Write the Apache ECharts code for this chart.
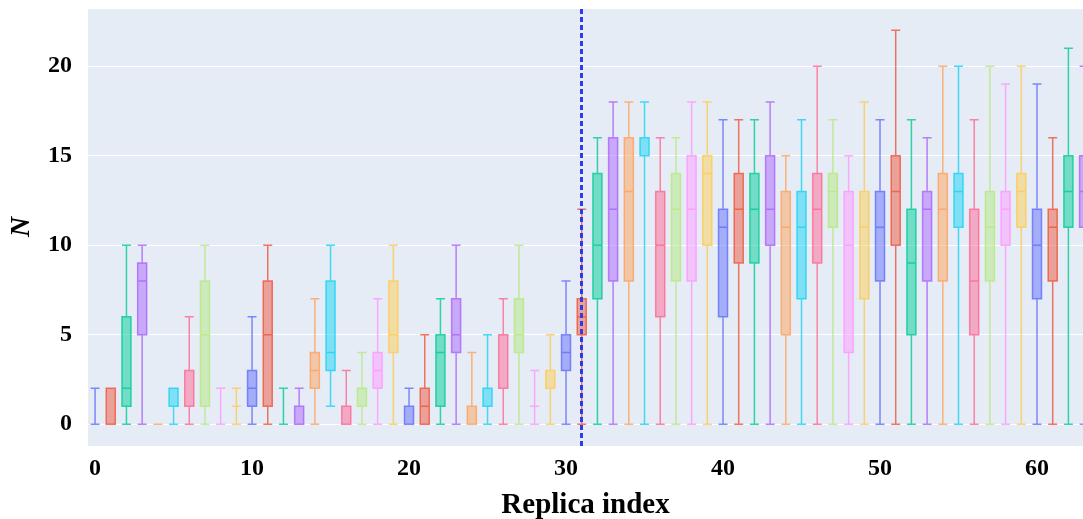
<!DOCTYPE html>
<html>
<head>
<meta charset="utf-8">
<script src="https://cdn.jsdelivr.net/npm/echarts@6/dist/echarts.min.js"></script>
<style>
  html, body { margin: 0; padding: 0; background: #fff; }
  #grafico { width: 1083px; height: 519px; }
</style>
</head>
<body>
<div id="grafico"></div>
<script>
// replica 0..63 (63 is cut at the right edge)
var minimos  = [0,0,0,0,0,0,0,0,0,0, 0,0,0,0,0,1,0,0,0,0, 0,0,0,0,0,0,0,0,0,0, 0,0,0,0,0,0,0,0,0,0, 0,0,0,0,0,0,0,0,0,0, 0,0,0,0,0,0,0,0,0,0, 0,0,0,0];
var q1s      = [0,0,1,5,0,1,1,1,0,1, 1,1,0,0,2,3,0,1,2,4, 0,0,1,4,0,1,2,4,1,2, 3,5,7,8,8,15,6,8,8,10, 6,9,9,10,5,7,9,11,4,7, 8,10,5,8,8,11,5,8,10,11, 7,8,11,11];
var medianas = [0,0,2,8,0,1,1,5,0,1, 2,5,0,0,3,4,0,1,3,5, 0,1,4,5,0,1,5,5,1,2, 4,6,10,12,13,16,10,12,12,14, 11,12,12,12,11,11,12,13,10,11, 11,13,9,12,12,13,8,11,12,13, 10,11,13,13];
var q3s      = [0,2,6,9,0,2,3,8,0,1, 3,8,0,1,4,8,1,2,4,8, 1,2,5,7,1,2,5,7,1,3, 5,7,14,16,16,16,13,14,15,15, 12,14,14,15,13,13,14,14,13,13, 13,15,12,13,14,14,12,13,13,14, 12,12,15,15];
var maximos  = [2,2,10,10,0,2,6,10,2,2, 6,10,2,2,7,10,3,4,7,10, 2,5,7,10,4,5,7,10,3,5, 8,12,16,18,18,18,16,16,18,18, 17,17,17,18,15,17,20,17,15,18, 17,22,17,16,20,20,17,20,19,20, 19,16,21,20];

var colores = ['#636EFA', '#EF553B', '#00CC96', '#AB63FA', '#FFA15A', '#19D3F3', '#FF6692', '#B6E880', '#FF97FF', '#FECB52'];
var replicaCorte = 31;

function rgba(hex, a) {
    var r = parseInt(hex.substr(1, 2), 16);
    var g = parseInt(hex.substr(3, 2), 16);
    var b = parseInt(hex.substr(5, 2), 16);
    return 'rgba(' + r + ',' + g + ',' + b + ',' + a + ')';
}

var datos = [];
for (var i = 0; i < minimos.length; i++) {
    var c = colores[i % colores.length];
    datos.push({
        value: [i, minimos[i], q1s[i], medianas[i], q3s[i], maximos[i]],
        itemStyle: {
            color: rgba(c, 0.5),
            borderColor: rgba(c, 0.8),
            borderWidth: 1.5
        }
    });
}

var myChart = echarts.init(document.getElementById('grafico'));
var option = {
    animation: false,
    grid: {
        left: 88,
        top: 8,
        right: 0,
        height: 438,
        outerBoundsMode: 'none',
        show: true,
        backgroundColor: '#E5ECF6',
        borderWidth: 0
    },
    xAxis: {
        type: 'value',
        min: -0.45,
        max: 62.93,
        name: 'Replica index',
        nameLocation: 'middle',
        nameGap: 45,
        nameTextStyle: {
            fontFamily: 'Liberation Serif',
            fontWeight: 'bold',
            fontSize: 29,
            color: '#000'
        },
        axisLine: { show: false },
        axisTick: { show: false },
        axisLabel: {
            showMinLabel: false,
            showMaxLabel: false,
            margin: 11,
            fontFamily: 'Liberation Serif',
            fontWeight: 'bold',
            fontSize: 24,
            color: '#000',
            formatter: function(v) { return v % 10 === 0 ? v : ''; }
        },
        splitLine: { show: false }
    },
    yAxis: {
        type: 'value',
        min: -1.22,
        max: 23.25,
        name: 'N',
        nameLocation: 'middle',
        nameRotate: 90,
        nameGap: 52,
        nameTextStyle: {
            fontFamily: 'Liberation Serif',
            fontWeight: 'bold',
            fontStyle: 'italic',
            fontSize: 28,
            color: '#000'
        },
        axisLine: { show: false },
        axisTick: { show: false },
        axisLabel: {
            showMinLabel: false,
            showMaxLabel: false,
            margin: 16,
            fontFamily: 'Liberation Serif',
            fontWeight: 'bold',
            fontSize: 24,
            color: '#000',
            formatter: function(v) { return v % 5 === 0 ? v : ''; }
        },
        splitLine: {
            lineStyle: { color: '#ffffff', width: 1 }
        }
    },
    series: [{
        type: 'boxplot',
        data: datos,
        boxWidth: [9, 9],
        emphasis: { disabled: true },
        markLine: {
            silent: true,
            symbol: ['none', 'none'],
            label: { show: false },
            lineStyle: {
                color: '#2f3be6',
                width: 3,
                type: [5, 3]
            },
            data: [{ xAxis: replicaCorte }]
        }
    }]
};
myChart.setOption(option, true);
</script>
</body>
</html>
